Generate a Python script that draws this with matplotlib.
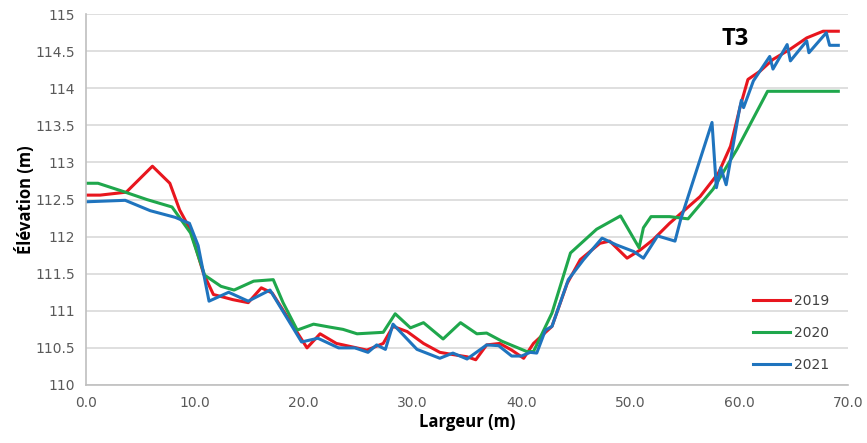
import matplotlib.pyplot as plt

# Cross-section T3: elevation (m) vs width (m)
x_2019 = [0.0, 1.3, 3.7, 6.1, 7.7, 8.6, 9.6, 10.8, 11.7, 13.5, 14.9, 16.1, 17.1,
          20.3, 21.5, 23.0, 25.8, 27.3, 28.2, 29.5, 31.0, 32.5, 33.7, 35.0, 35.8,
          36.8, 38.0, 39.1, 40.2, 41.1, 42.8, 44.2, 45.4, 47.2, 48.1, 49.7, 50.9,
          52.1, 53.6, 56.4, 58.1, 59.2, 60.1, 60.8, 61.9, 63.1, 64.7, 66.2, 67.7, 69.1]
y_2019 = [112.56, 112.56, 112.60, 112.95, 112.72, 112.36, 112.09, 111.50, 111.22, 111.15, 111.11, 111.31, 111.24,
          110.50, 110.69, 110.56, 110.47, 110.56, 110.79, 110.72, 110.56, 110.44, 110.41, 110.38, 110.34,
          110.54, 110.56, 110.47, 110.36, 110.56, 110.79, 111.37, 111.69, 111.91, 111.94, 111.71, 111.82,
          111.96, 112.18, 112.54, 112.86, 113.22, 113.76, 114.12, 114.23, 114.39, 114.53, 114.68, 114.77, 114.77]

x_2020 = [0.0, 1.1, 3.4, 5.6, 7.9, 9.6, 10.9, 12.4, 13.6, 15.4, 17.2, 18.1, 19.4,
          20.9, 22.4, 23.6, 24.9, 27.3, 28.4, 29.8, 31.0, 32.8, 34.4, 35.9, 36.8,
          38.2, 40.5, 41.1, 42.8, 44.5, 46.9, 49.1, 50.8, 51.2, 51.9, 53.6, 55.3,
          57.6, 59.8, 62.6, 69.1]
y_2020 = [112.72, 112.72, 112.61, 112.50, 112.40, 112.05, 111.48, 111.33, 111.28, 111.40, 111.42, 111.11, 110.74,
          110.82, 110.78, 110.75, 110.69, 110.71, 110.96, 110.77, 110.84, 110.62, 110.84, 110.69, 110.70,
          110.59, 110.45, 110.45, 110.97, 111.78, 112.10, 112.28, 111.85, 112.12, 112.27, 112.27, 112.24,
          112.64, 113.18, 113.96, 113.96]

x_2021 = [0.0, 3.6, 5.9, 8.2, 9.5, 10.3, 11.3, 13.1, 14.9, 16.9, 19.8, 21.3, 23.2,
          24.7, 25.9, 26.7, 27.5, 28.2, 30.4, 32.5, 33.7, 35.0, 36.8, 37.9, 39.1,
          40.0, 40.8, 41.4, 42.2, 42.8, 44.3, 45.7, 47.4, 48.7, 50.3, 51.2, 52.5,
          54.1, 54.6, 57.5, 57.9, 58.3, 58.8, 60.0, 60.2, 60.4, 61.3, 62.8, 63.1,
          64.4, 64.7, 66.2, 66.4, 68.0, 68.3, 69.1]
y_2021 = [112.47, 112.49, 112.35, 112.26, 112.18, 111.88, 111.13, 111.25, 111.13, 111.28, 110.58, 110.63, 110.50,
          110.50, 110.44, 110.54, 110.48, 110.82, 110.48, 110.36, 110.43, 110.35, 110.54, 110.53, 110.39,
          110.39, 110.44, 110.43, 110.74, 110.79, 111.42, 111.69, 111.98, 111.89, 111.80, 111.71, 112.01,
          111.94, 112.22, 113.54, 112.66, 112.93, 112.70, 113.70, 113.84, 113.74, 114.10, 114.43, 114.26,
          114.59, 114.37, 114.64, 114.48, 114.75, 114.58, 114.58]

x_ticks = [0, 10, 20, 30, 40, 50, 60, 70]
y_ticks = [110, 110.5, 111, 111.5, 112, 112.5, 113, 113.5, 114, 114.5, 115]

fig = plt.figure(figsize=(8.67, 4.43), dpi=100)
ax = fig.add_axes([0.0992, 0.131, 0.879, 0.837])

ax.plot(x_2019, y_2019, color='#E8161E', lw=2.2, label='2019')
ax.plot(x_2020, y_2020, color='#1FA74C', lw=2.2, label='2020')
ax.plot(x_2021, y_2021, color='#1F74BE', lw=2.2, label='2021')

ax.set_xlim(0, 70)
ax.set_ylim(110, 115)
ax.set_xticks(x_ticks)
ax.set_xticklabels([f'{v:.1f}' for v in x_ticks])
ax.set_yticks(y_ticks)
ax.set_yticklabels([f'{v:g}' for v in y_ticks])
ax.tick_params(length=0, labelsize=10, labelcolor='#595959', pad=8)
for lab in ax.get_xticklabels() + ax.get_yticklabels():
    lab.set_family('Liberation Sans Narrow')

ax.grid(axis='y', color='#D9D9D9', lw=1.2)
ax.set_axisbelow(True)
for s in ['top', 'right']:
    ax.spines[s].set_visible(False)
for s in ['left', 'bottom']:
    ax.spines[s].set_color('#BFBFBF')
    ax.spines[s].set_linewidth(1.2)

ax.set_xlabel('Largeur (m)', fontsize=12, fontweight='bold', family='Open Sans', labelpad=2)
ax.set_ylabel('Élévation (m)', fontsize=12, fontweight='bold', family='Open Sans', labelpad=0)

ax.text(59.6, 114.66, 'T3', fontsize=17, fontweight='bold', ha='center', va='center',
        family='Open Sans')

leg = ax.legend(loc='upper left', bbox_to_anchor=(0.875, 0.245), frameon=False,
                borderaxespad=0, borderpad=0, handlelength=2.66, handletextpad=0.3,
                labelspacing=1.3, fontsize=10)
for t in leg.get_texts():
    t.set_color('#404040')

fig.savefig('out.png', dpi=100)
